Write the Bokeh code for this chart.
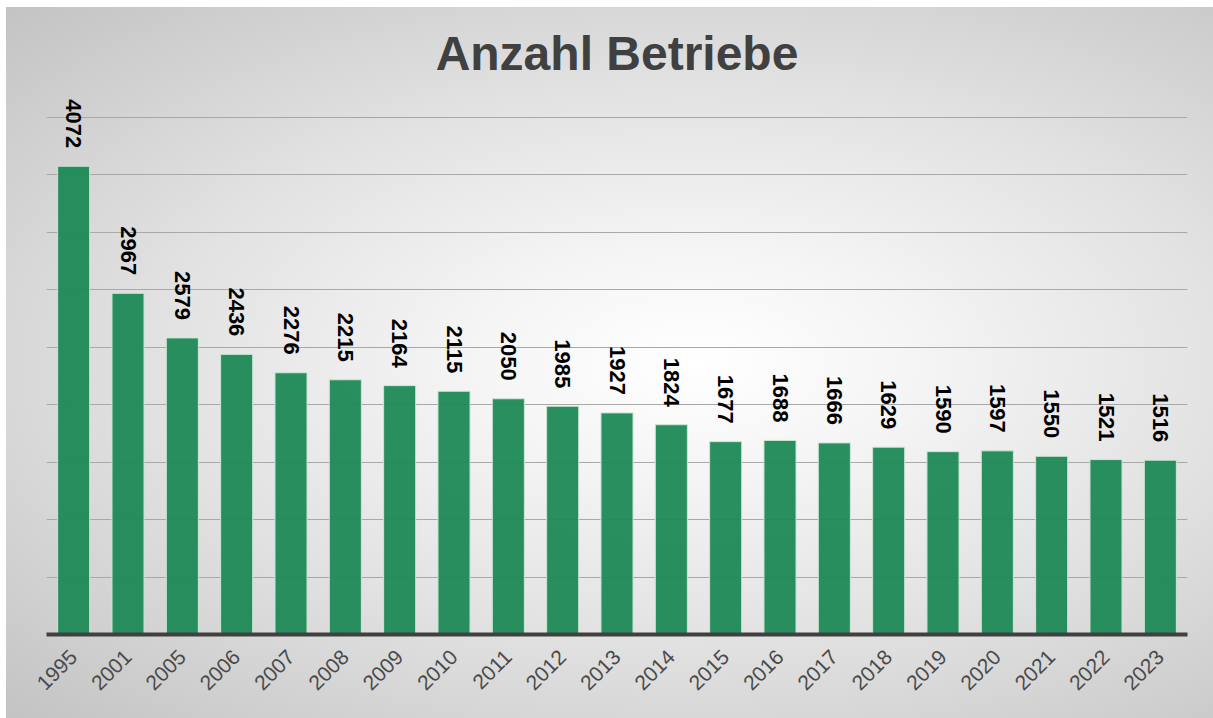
import math
from bokeh.plotting import figure
from bokeh.models import ColumnDataSource, Range1d, SingleIntervalTicker, FactorRange
from bokeh.core.properties import value
from bokeh.embed import file_html
from bokeh.resources import INLINE

years = ["1995", "2001", "2005", "2006", "2007", "2008", "2009", "2010", "2011",
         "2012", "2013", "2014", "2015", "2016", "2017", "2018", "2019", "2020",
         "2021", "2022", "2023"]
betriebe = [4072, 2967, 2579, 2436, 2276, 2215, 2164, 2115, 2050, 1985, 1927,
            1824, 1677, 1688, 1666, 1629, 1590, 1597, 1550, 1521, 1516]
labels = [str(v) for v in betriebe]

source = ColumnDataSource(data=dict(year=years, value=betriebe, label=labels))

FONT = "Liberation Sans"

p = figure(
    width=1207, height=711,
    x_range=FactorRange(*years),
    y_range=Range1d(0, 4800),
    output_backend="svg", toolbar_location=None,
    min_border_left=40, min_border_right=26, min_border_top=75, min_border_bottom=84,
)
p.background_fill_color = None
p.border_fill_color = None
p.outline_line_color = None
p.styles = {
    "margin-left": "6px",
    "margin-top": "7px",
    "background-image": "radial-gradient(ellipse farthest-corner at 57% 50%, #ffffff 0%, #f5f5f5 22%, #e2e2e2 55%, #c3c3c3 100%)",
}

p.title.text = "Anzahl Betriebe"
p.title.text_font = FONT
p.title.text_font_size = "48px"
p.title.text_font_style = "bold"
p.title.text_color = "#404040"
p.title.align = "center"
p.title.offset = -5
p.title.standoff = 6

p.vbar(x="year", top="value", width=0.59, source=source,
       fill_color="#1d8956", fill_alpha=0.95,
       line_color="#cde6d6", line_width=1)

p.text(x="year", y="value", text="label", source=source,
       angle=-math.pi / 2, text_align="right", text_baseline="middle",
       y_offset=-18, text_font=value(FONT), text_font_style="bold",
       text_font_size="22px", text_color="#000000")

p.yaxis.visible = False
p.ygrid.ticker = SingleIntervalTicker(interval=500)
p.ygrid.grid_line_color = "#a8a8a8"
p.ygrid.grid_line_width = 1
p.xgrid.grid_line_color = None

xa = p.xaxis[0]
xa.axis_line_color = "#404040"
xa.axis_line_width = 4
xa.major_tick_line_color = None
xa.minor_tick_line_color = None
xa.major_label_orientation = math.pi / 4
xa.major_label_text_font = FONT
xa.major_label_text_font_size = "21px"
xa.major_label_text_color = "#4a4a4a"
xa.major_label_standoff = 13

open("out.html", "w").write(file_html(p, INLINE))
